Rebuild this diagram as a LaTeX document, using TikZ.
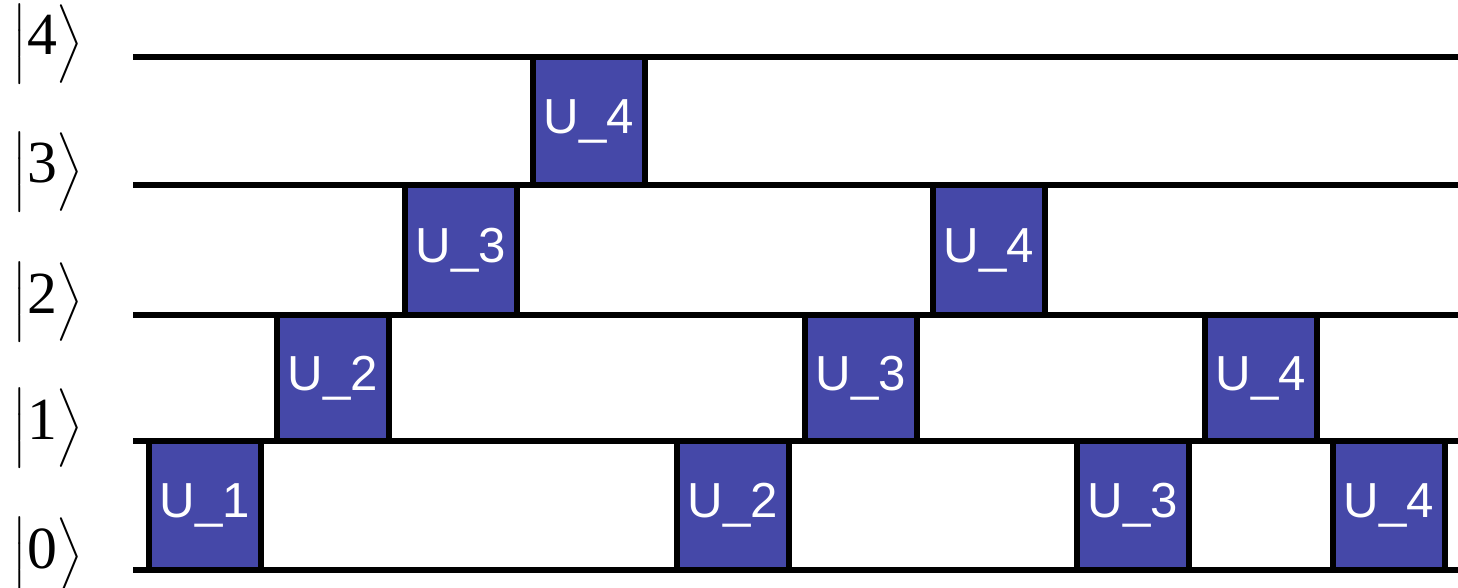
\documentclass[tikz,border=0pt]{standalone}
\usepackage{amsmath}
\usepackage{fontspec}
\setmainfont{Liberation Serif}
\setsansfont{Liberation Sans}
\usetikzlibrary{positioning}
\definecolor{gateblue}{HTML}{4548A8}
\newcommand{\levelket}[1]{$\left|\rule[-0.34em]{0pt}{1.18em}\textrm{#1}\right\rangle$}
\tikzset{
  every picture/.style={line width=0.1cm},
  wire/.style={draw=black, line width=0.105cm},
  gate/.style={draw=black, fill=gateblue, line width=0.105cm, inner sep=0pt,
               minimum width=2.24cm, minimum height=#1, text=white,
               font=\sffamily\fontsize{28}{28}\selectfont},
  gate/.default=2.57cm,
  ket/.style={font=\fontsize{34}{34}\selectfont, anchor=base west, inner sep=0pt},
}
\begin{document}
\begin{tikzpicture}[x=0.02cm, y=-0.02cm]
  \useasboundingbox (0,0) rectangle (1458,588);
  % level kets and wires
  \foreach \lv/\yy in {0/570, 1/441, 2/315, 3/185, 4/57} {
    \node[ket] (k\lv) at (10,\yy-2) {\levelket{\lv}};
    \coordinate (w\lv s) at (133,\yy);
    \coordinate (w\lv e) at (1458,\yy);
    \draw[wire] (w\lv s) -- (w\lv e);
  }
  % first sweep
  \node[gate=2.58cm] (g01) at (205,505.5) {U\_1};
  \node[gate=2.52cm] (g12) at (333,378) {U\_2};
  \node[gate=2.60cm] (g23) at (461,250) {U\_3};
  \node[gate=2.56cm] (g34) at (589,121) {U\_4};
  % second sweep
  \node[gate=2.58cm] (g02) at (733,505.5) {U\_2};
  \node[gate=2.52cm] (g13) at (861,378) {U\_3};
  \node[gate=2.60cm] (g24) at (989,250) {U\_4};
  % third sweep
  \node[gate=2.58cm] (g03) at (1133,505.5) {U\_3};
  \node[gate=2.52cm] (g14) at (1261,378) {U\_4};
  % last
  \node[gate=2.58cm] (g04) at (1389,505.5) {U\_4};
\end{tikzpicture}
\end{document}
